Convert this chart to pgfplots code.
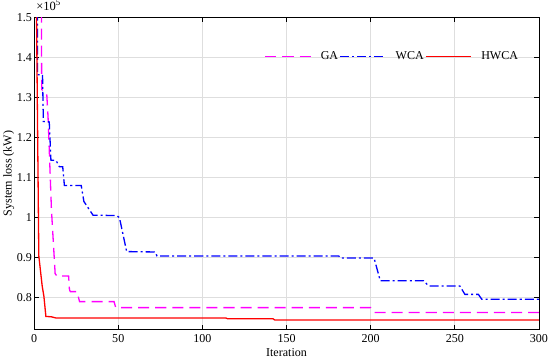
\documentclass[border=0pt]{standalone}
\usepackage{fontspec}
\setmainfont{Liberation Serif}
\usepackage{pgfplots}
\pgfplotsset{compat=1.18}

\definecolor{gacol}{RGB}{255,0,255}
\definecolor{wcacol}{RGB}{0,0,255}
\definecolor{hwcacol}{RGB}{255,0,0}

\begin{document}
\begin{tikzpicture}
\begin{axis}[
  scale only axis, width=503pt, height=311pt,
  xmin=0, xmax=300, ymin=72000, ymax=150000,
  xtick={0,50,...,300},
  ytick={80000,90000,100000,110000,120000,130000,140000,150000},
  scaled y ticks=base 10:-5,
  ytick scale label code/.code={×10\textsuperscript{5}},
  every y tick scale label/.style={at={(rel axis cs:0,1)}, anchor=south west,
    inner sep=0pt, xshift=2pt, yshift=7pt, font=\fontsize{12.5}{14}\selectfont},
  /pgf/number format/assume math mode=true,
  font=\fontsize{12}{14}\selectfont,
  tick label style={font=\fontsize{12}{14}\selectfont},
  xticklabel style={inner sep=2pt, yshift=-3pt},
  yticklabel style={inner sep=2pt},
  tick align=inside, major tick length=5pt,
  every tick/.style={black, line width=0.8pt},
  axis line style={black, line width=0.9pt},
  grid=major, grid style={black!13, line width=0.8pt},
  xlabel={Iteration}, ylabel={System loss (kW)},
  xlabel style={yshift=0pt}, ylabel style={yshift=-3pt},
  legend style={draw=none, fill=none, legend columns=-1,
    at={(rel axis cs:0.968,0.875)}, anchor=east,
    font=\fontsize{12}{14}\selectfont,
    nodes={inner xsep=1.5pt},
    /tikz/every odd column/.append style={column sep=8pt}},
  legend image code/.code={\draw[#1] (0pt,0pt) -- (45pt,0pt);},
]
% GA
\addplot[gacol, line width=1.3pt, dash pattern=on 11pt off 6pt] coordinates {
  (4.3,160000) (4.5,132000) (7.5,131000) (8.3,125000) (10.3,102000)
  (12.5,86000) (13.5,85400) (20.5,85400) (21,82000) (21.5,81500)
  (25.5,81500) (27,79000) (47.5,79000) (48.5,77500) (200,77500)
  (202,76300) (300,76300)};
\addlegendentry{GA}
% WCA
\addplot[wcacol, line width=1.3pt, dash pattern=on 9pt off 3pt on 2pt off 3pt] coordinates {
  (2,160000) (2,135700) (5,135700) (5.5,124000) (9,123900) (10,114300)
  (13,114300) (15,112700) (17,112700) (18,108000) (28,108000)
  (29.6,104000) (35,100600) (49,100500) (50.7,100000) (55,91500)
  (72,91400) (73,90400) (181,90400) (182,89900) (202,89900)
  (205.7,84200) (231.5,84200) (234.5,82900) (253,82900) (256,80800)
  (264,80800) (266,79600) (300,79600)};
\addlegendentry{WCA}
% HWCA
\addplot[hwcacol, line width=1.3pt] coordinates {
  (1,170000) (2,125000) (2.8,90400) (4.8,82900) (5.8,80400) (7,75300)
  (10.3,75200) (13,74900) (114,74900) (115,74700) (142,74700)
  (143,74400) (300,74400)};
\addlegendentry{HWCA}
\end{axis}
\end{tikzpicture}
\end{document}
